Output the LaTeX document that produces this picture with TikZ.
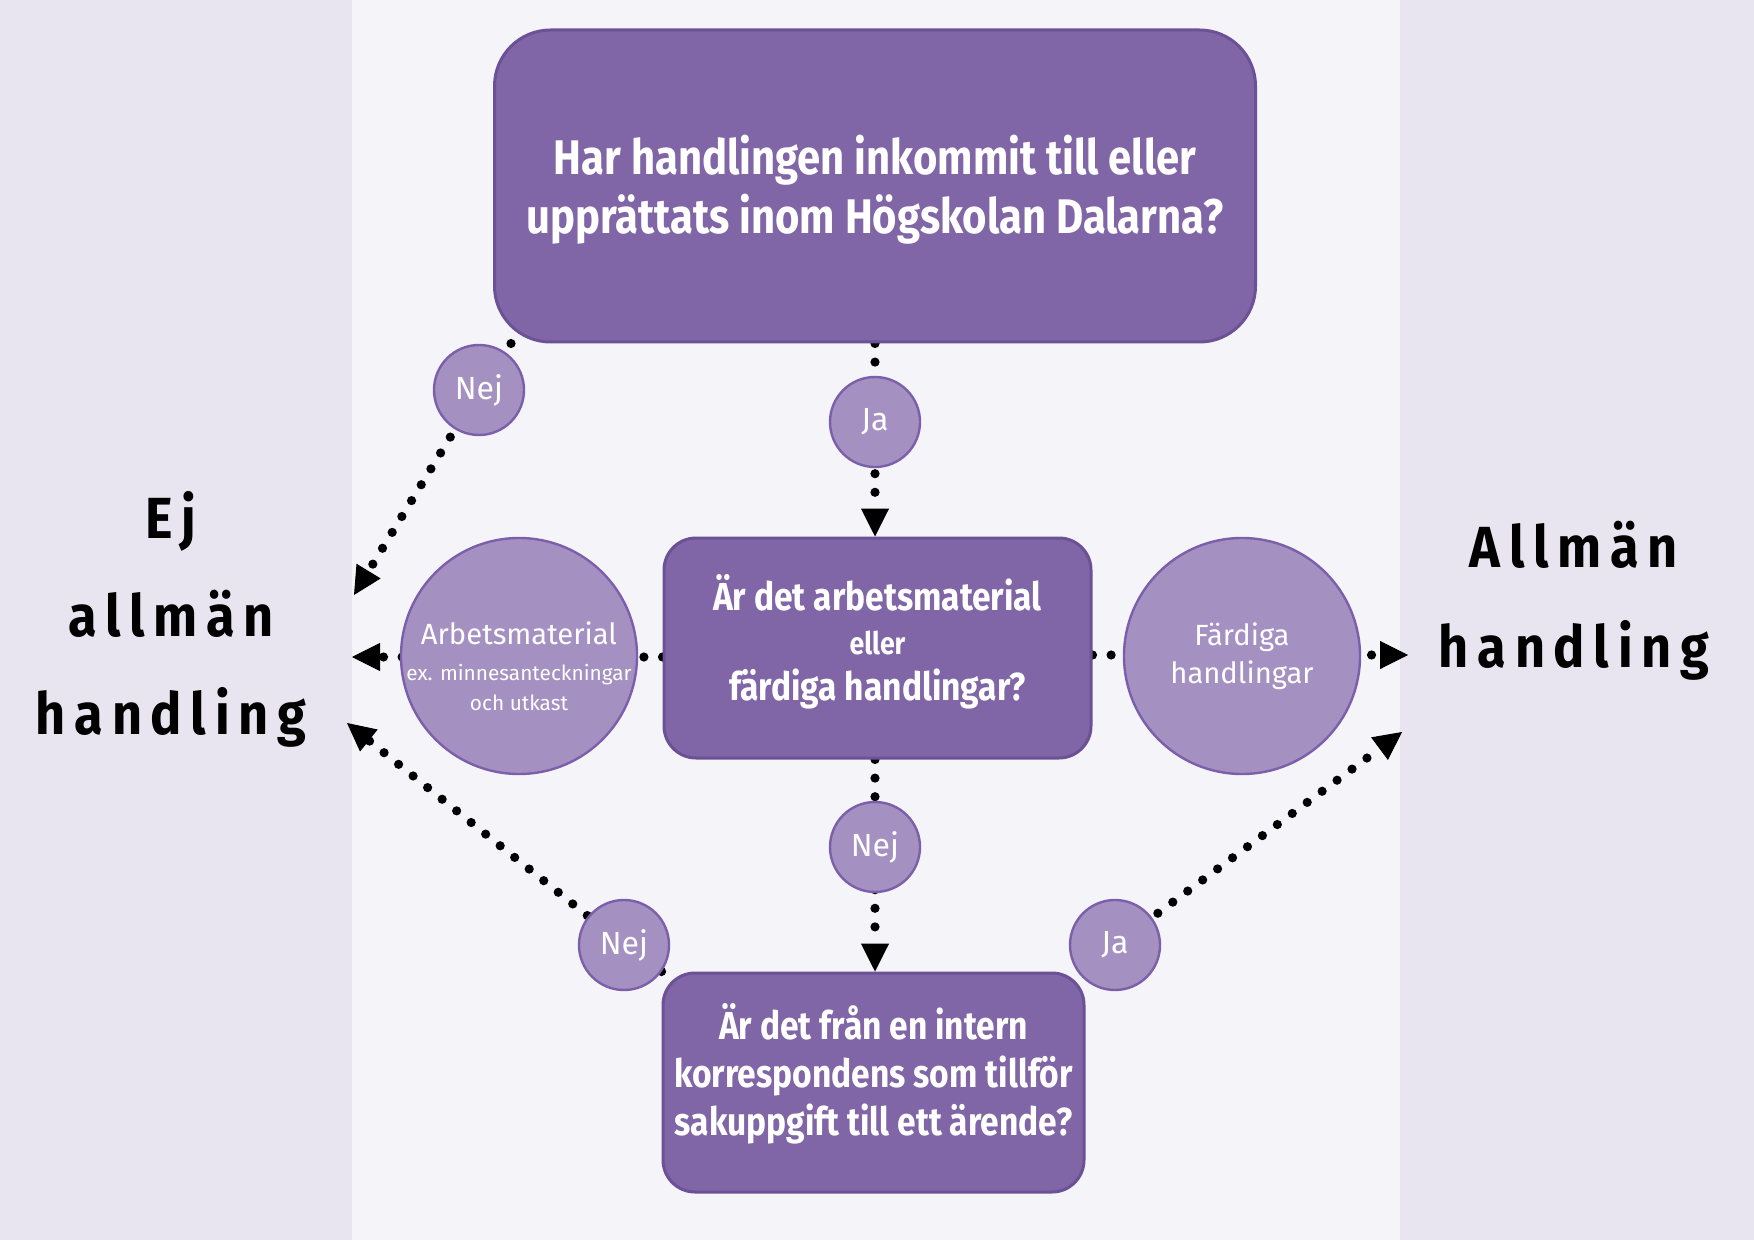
\documentclass[tikz,border=0pt]{standalone}
\usepackage{fontspec}
\setmainfont{Fira Sans}
\newfontfamily\boxfont[FakeStretch=0.86]{Fira Sans}
\newfontfamily\sidefont[FakeStretch=0.9,LetterSpace=15]{Fira Sans}
\usetikzlibrary{arrows.meta, calc, backgrounds}

\definecolor{sidebg}{HTML}{E8E5F0}
\definecolor{midbg}{HTML}{F5F4F9}
\definecolor{boxfill}{HTML}{8066A6}
\definecolor{boxedge}{HTML}{6B5196}
\definecolor{circfill}{HTML}{A591C1}
\definecolor{circedge}{HTML}{7B5FAB}

\begin{document}
\begin{tikzpicture}[x=0.5pt, y=-0.5pt,
    question/.style={draw=boxedge, fill=boxfill, line width=1.5pt, rounded corners=16pt,
        text=white, align=center, font=\boxfont\bfseries\fontsize{19.5}{24}\selectfont},
    answer/.style={circle, draw=circedge, fill=circfill, line width=1.2pt, minimum size=45pt,
        inner sep=0pt, text=white, font=\fontsize{16}{19}\selectfont},
    kind/.style={circle, draw=circedge, fill=circfill, line width=1.2pt, minimum size=118pt,
        inner sep=0pt, text=white, align=center, font=\fontsize{14.6}{19}\selectfont},
    verdict/.style={align=center, font=\sidefont\bfseries\fontsize{29}{49}\selectfont},
    dotarrow/.style={line width=4.6pt, line cap=round, dash pattern=on 0pt off 9.3pt,
        -{Triangle[length=14pt, width=14pt, line width=0.5pt]}}]
    % Background bands
    \begin{scope}[on background layer]
        \fill[sidebg] (0,0) rectangle (352,1240);
        \fill[midbg] (352,0) rectangle (1400,1240);
        \fill[sidebg] (1400,0) rectangle (1754,1240);
    \end{scope}
    \useasboundingbox (0,0) rectangle (1754,1240);

    % Questions
    \node[question, minimum width=380.5pt, minimum height=156pt, rounded corners=28pt, text depth=2pt,
        font=\boxfont\bfseries\fontsize{24.3}{29.5}\selectfont] (top) at (875,186)
        {Har handlingen inkommit till eller\\upprättats inom Högskolan Dalarna?};
    \node[question, minimum width=213.5pt, minimum height=110pt, text depth=11pt] (mid) at (877.5,648)
        {Är det arbetsmaterial\\[-2pt]{\fontsize{15.5}{20}\selectfont eller}\\[-1pt]färdiga handlingar?};
    \node[question, minimum width=210.5pt, minimum height=109.5pt, text depth=13.4pt] (bot) at (873.5,1082.5)
        {Är det från en intern\\korrespondens som tillför\\sakuppgift till ett ärende?};

    % Kinds of documents
    \node[kind, text height=54.5pt, inner sep=-6pt] (arb) at (519,656)
        {Arbetsmaterial\\[-1pt]{\fontsize{10.4}{15}\selectfont ex. minnesanteckningar}\\[-4pt]{\fontsize{10.4}{15}\selectfont och utkast}};
    \node[kind] (fard) at (1242,656) {Färdiga\\handlingar};

    % Answers
    \node[answer] (nej1) at (479,390) {Nej};
    \node[answer] (ja1) at (875,422) {Ja};
    \node[answer] (nej3) at (875,847) {Nej};
    \node[answer] (nej4) at (624,945) {Nej};
    \node[answer] (ja2) at (1115,945) {Ja};

    % Verdicts
    \node[verdict] (ej) at (171,619) {Ej\\allmän\\handling};
    \node[verdict] (allm) at (1574,601) {Allmän\\[1pt]handling};
    \coordinate (ejtop) at (354,595);
    \coordinate (ejmid) at (352,657);
    \coordinate (ejbot) at (347,723);
    \coordinate (allmid) at (1408,655);
    \coordinate (allbot) at (1402,732);

    % Connectors
    \begin{scope}[on background layer]
        \draw[dotarrow] ([xshift=9pt]top.south west) -- (nej1.center) -- (ejtop);
        \draw[dotarrow] (top.south) -- (top.south |- mid.north);
        \draw[dotarrow] (mid.west |- ejmid) -- (ejmid);
        \draw[dotarrow] (mid.east |- allmid) -- (allmid);
        \draw[dotarrow] (nej3 |- mid.south) -- (nej3 |- bot.north);
        \draw[dotarrow] (bot.north west) -- (nej4.center) -- (ejbot);
        \draw[dotarrow] (bot.north east) -- (ja2.center) -- (allbot);
    \end{scope}
\end{tikzpicture}
\end{document}
